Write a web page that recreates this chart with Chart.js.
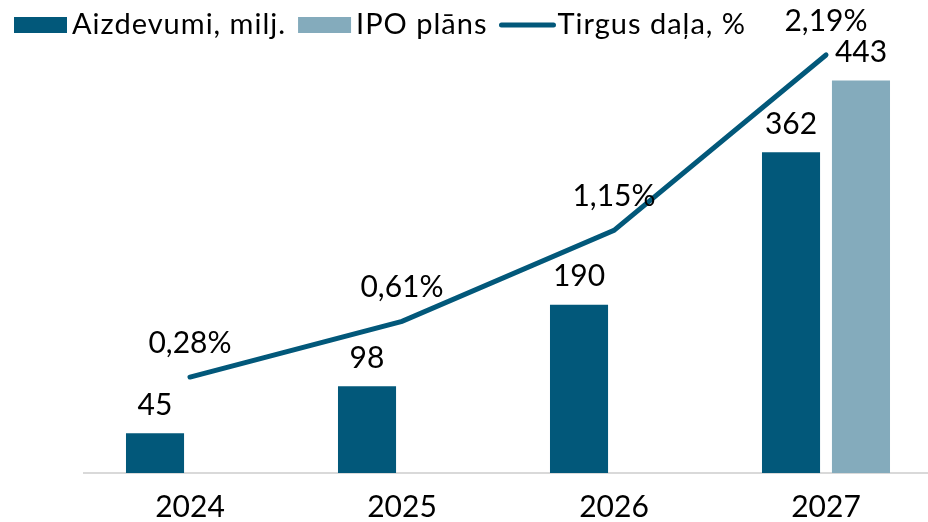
<!DOCTYPE html>
<html>
<head>
<meta charset="utf-8">
<script src="https://cdn.jsdelivr.net/npm/chart.js@4/dist/chart.umd.min.js"></script>
<style>
html, body { margin: 0; padding: 0; background: #fff; overflow: hidden; }
#wrap { width: 940px; height: 522px; }
</style>
</head>
<body>
<div id="wrap"><canvas id="chart" width="940" height="522"></canvas></div>
<script>
// dati
const years = ['2024', '2025', '2026', '2027']
const loans = [45, 98, 190, 362]
const ipoPlan = [null, null, null, 443]
const marketShare = [0.28, 0.61, 1.15, 2.19]

const dark = '#02587a'
const light = '#84abbc'
const FONT = 'Lato'

function fmtPct(v) {
  return v.toFixed(2).replace('.', ',') + '%'
}

// vērtību uzraksti
const labelsPlugin = {
  id: 'valueLabels',
  afterDatasetsDraw(chart) {
    const ctx = chart.ctx
    ctx.save()
    ctx.fillStyle = '#000'
    ctx.textAlign = 'center'
    ctx.textBaseline = 'middle'
    ctx.font = '30px ' + FONT
    chart.data.datasets.forEach((ds, i) => {
      const meta = chart.getDatasetMeta(i)
      meta.data.forEach((el, j) => {
        const v = ds.data[j]
        if (v == null) return
        if (ds.type === 'line') {
          ctx.fillText(fmtPct(v), el.x, el.y - 34)
        } else {
          ctx.fillText(String(v), el.x, el.y - 28)
        }
      })
    })
    ctx.restore()
  }
}

// leģenda
const legendPlugin = {
  id: 'topLegend',
  afterDraw(chart) {
    const ctx = chart.ctx
    ctx.save()
    ctx.font = '29px ' + FONT
    ctx.letterSpacing = '1px'
    ctx.fillStyle = '#000'
    ctx.textBaseline = 'middle'
    let x = 14
    const y = 25
    const items = [
      { text: chart.data.datasets[1].label, color: dark, kind: 'box' },
      { text: chart.data.datasets[2].label, color: light, kind: 'box' },
      { text: chart.data.datasets[0].label, color: dark, kind: 'line' }
    ]
    items.forEach(it => {
      if (it.kind === 'box') {
        ctx.fillStyle = it.color
        ctx.fillRect(x, y - 8, 53, 16)
      } else {
        ctx.strokeStyle = it.color
        ctx.lineWidth = 5
        ctx.lineCap = 'round'
        ctx.beginPath()
        ctx.moveTo(x + 2, y)
        ctx.lineTo(x + 54, y)
        ctx.stroke()
      }
      x += 58
      ctx.fillStyle = '#000'
      ctx.fillText(it.text, x, y)
      x += ctx.measureText(it.text).width + 12
    })
    ctx.restore()
  }
}

new Chart(document.getElementById('chart'), {
  data: {
    labels: years,
    datasets: [
      {
        type: 'line',
        label: 'Tirgus daļa, %',
        data: marketShare,
        yAxisID: 'y2',
        borderColor: dark,
        borderWidth: 5,
        borderCapStyle: 'round',
        pointRadius: 0,
        tension: 0,
        order: 0
      },
      {
        type: 'bar',
        label: 'Aizdevumi, milj.',
        data: loans,
        backgroundColor: dark,
        categoryPercentage: 0.66,
        barPercentage: 0.83,
        order: 1
      },
      {
        type: 'bar',
        label: 'IPO plāns',
        data: ipoPlan,
        backgroundColor: light,
        categoryPercentage: 0.66,
        barPercentage: 0.83,
        order: 1
      }
    ]
  },
  options: {
    responsive: false,
    animation: false,
    layout: { padding: { top: 30, left: 84, right: 8, bottom: 0 } },
    plugins: {
      legend: { display: false },
      tooltip: { enabled: false }
    },
    scales: {
      x: {
        grid: { display: false, drawTicks: false },
        border: { display: true, color: '#d9d9d9', width: 2 },
        ticks: { color: '#000', font: { family: FONT, size: 30 }, padding: 16 },
        afterFit(scale) { scale.height = 49 }
      },
      y: { display: false, min: 0, max: 500 },
      y2: { display: false, position: 'right', min: -0.289, max: 2.338 }
    }
  },
  plugins: [labelsPlugin, legendPlugin]
})
</script>
</body>
</html>
